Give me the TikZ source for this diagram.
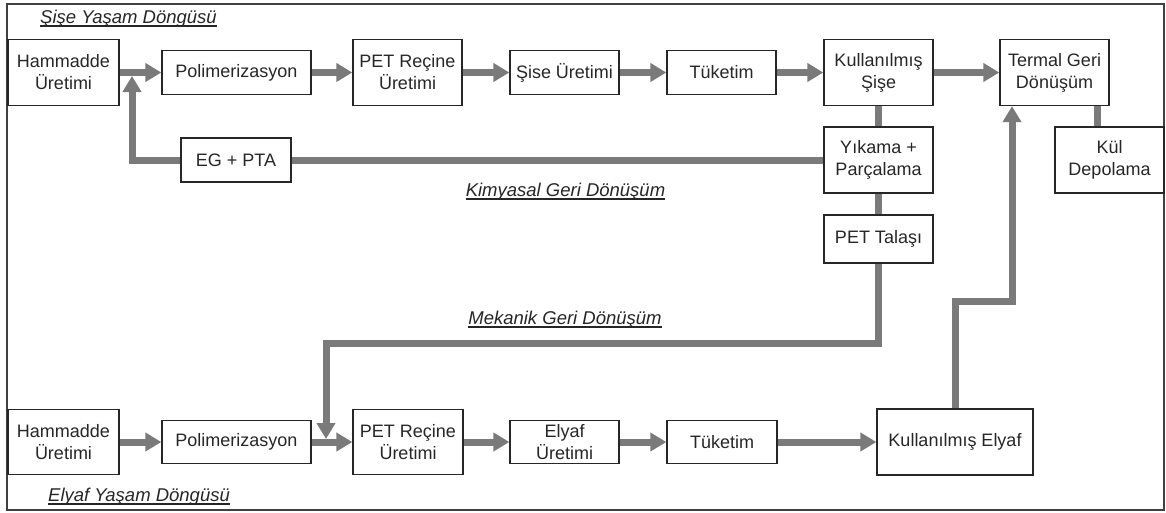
\documentclass[tikz,border=0pt]{standalone}
\usepackage{fontspec}
\setmainfont{Liberation Sans}
\usetikzlibrary{arrows.meta}
\definecolor{arr}{RGB}{122,122,122}
\newcommand\myul[1]{\setbox0\hbox{#1}\rlap{\copy0}\rule[-3pt]{\wd0}{1.3pt}}
\begin{document}
\begin{tikzpicture}[x=1pt,y=-1pt,
  box/.style={draw=black!85, line width=1.3pt, inner sep=0pt, align=center,
    font=\fontsize{18}{22}\selectfont, text=black!85},
  flow/.style={draw=arr, line width=7pt, -{Triangle[length=16pt,width=18pt]}},
  link/.style={draw=arr, line width=7pt},
  lbl/.style={font=\fontsize{18.5}{22}\selectfont\itshape, text=black!85, inner sep=0pt}
]
\useasboundingbox (0,0) rectangle (1166,512);
\draw[black!75, line width=2pt] (7,4) rectangle (1164,510);

% top row
\node[box, minimum width=111pt, minimum height=66pt] (h1) at (63.5,72.5) {Hammadde\\Üretimi};
\node[box, minimum width=149pt, minimum height=44pt] (p1) at (236.5,72.5) {Polimerizasyon};
\node[box, minimum width=109pt, minimum height=66pt] (r1) at (407.5,72.5) {PET Reçine\\Üretimi};
\node[box, minimum width=109pt, minimum height=44pt] (s1) at (564.5,72.5) {Şise Üretimi};
\node[box, minimum width=109pt, minimum height=44pt] (t1) at (721.5,72.5) {Tüketim};
\node[box, minimum width=109pt, minimum height=66pt] (k1) at (878.5,72.5) {Kullanılmış\\Şişe};
\node[box, minimum width=109pt, minimum height=66pt] (th) at (1054.5,72.5) {Termal Geri\\Dönüşüm};

% middle
\node[box, minimum width=109pt, minimum height=66pt] (kd) at (1109.5,160) {Kül\\Depolama};
\node[box, minimum width=109pt, minimum height=66pt] (yk) at (878.5,160) {Yıkama +\\Parçalama};
\node[box, minimum width=110pt, minimum height=44pt] (eg) at (236,160) {EG + PTA};
\node[box, minimum width=109pt, minimum height=48pt] (pt) at (878.5,239) {PET Talaşı};

% bottom row
\node[box, minimum width=111pt, minimum height=65pt] (h2) at (63.5,442) {Hammadde\\Üretimi};
\node[box, minimum width=149pt, minimum height=43pt] (p2) at (236.5,442) {Polimerizasyon};
\node[box, minimum width=110pt, minimum height=65pt] (r2) at (408,442) {PET Reçine\\Üretimi};
\node[box, minimum width=109pt, minimum height=43pt] (e2) at (564.5,442) {Elyaf\\Üretimi};
\node[box, minimum width=110pt, minimum height=43pt] (t2) at (722,442) {Tüketim};
\node[box, minimum width=156pt, minimum height=66pt] (k2) at (955,442) {Kullanılmış Elyaf};

% labels
\node[lbl, anchor=west] (l1) at (40,19) {\myul{Şişe Yaşam Döngüsü}};
\node[lbl] (l2) at (565.5,192) {\myul{Kimyasal Geri Dönüşüm}};
\node[lbl] (l3) at (565,320) {\myul{Mekanik Geri Dönüşüm}};
\node[lbl, anchor=west] (l4) at (48,497) {\myul{Elyaf Yaşam Döngüsü}};

% coordinates
\coordinate (c1) at (1097,0);
\coordinate (up1) at (132,76);
\coordinate (m1) at (878.5,343);
\coordinate (m2) at (326,343);
\coordinate (m3) at (326,439);
\coordinate (e1) at (955,301);
\coordinate (e2c) at (1012,301);

% top flows
\draw[flow] (h1) -- (p1);
\draw[flow] (p1) -- (r1);
\draw[flow] (r1) -- (s1);
\draw[flow] (s1) -- (t1);
\draw[flow] (t1) -- (k1);
\draw[flow] (k1) -- (th);
\draw[link] (k1) -- (yk);
\draw[link] (yk) -- (pt);
\draw[link] (th.south -| c1) -- (kd.north -| c1);
\draw[link] (yk) -- (eg);
\draw[flow] (eg.west) -| (up1);
\draw[flow] (pt.south) -- (m1) -- (m2) -- (m3);
\draw[flow] (k2.north) -- (e1) -- (e2c) -- (th.south -| e2c);

% bottom flows
\draw[flow] (h2) -- (p2);
\draw[flow] (p2) -- (r2);
\draw[flow] (r2) -- (e2);
\draw[flow] (e2) -- (t2);
\draw[flow] (t2) -- (k2);
\end{tikzpicture}
\end{document}
